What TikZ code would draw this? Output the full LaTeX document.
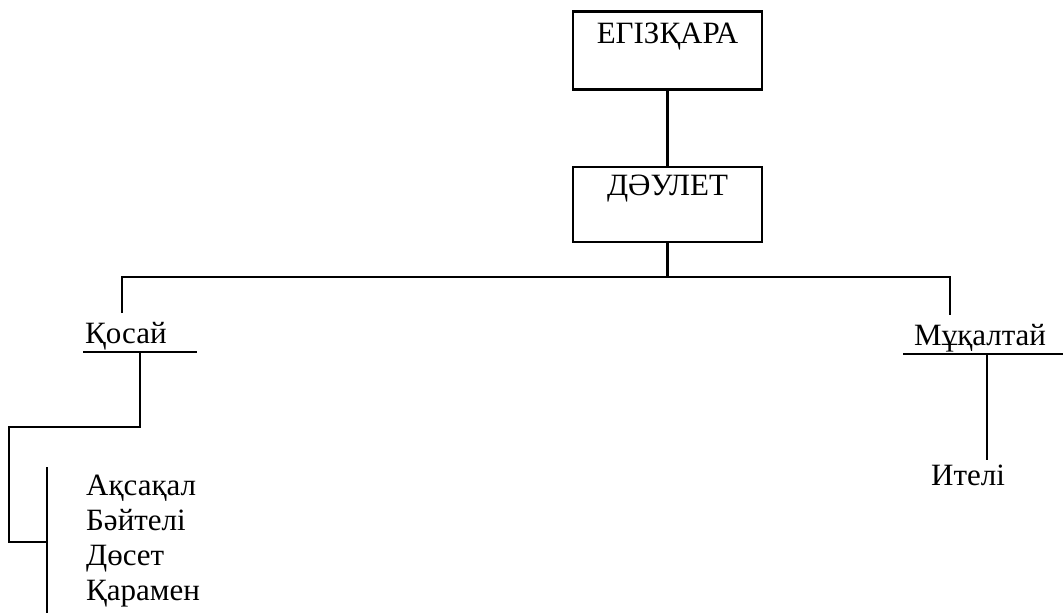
\documentclass[tikz,border=0pt]{standalone}
\usepackage{fontspec}
\setmainfont{Liberation Serif}
\usetikzlibrary{positioning}

\begin{document}
\begin{tikzpicture}[
  x=1pt,
  y=-1pt,
  box/.style={
    draw,
    line width=2.5pt,
    minimum width=189pt,
    inner xsep=0pt,
    inner ysep=0pt,
    text depth=46pt,
    font=\fontsize{31}{34.5}\selectfont
  },
  person/.style={
    inner sep=0pt,
    align=left,
    font=\fontsize{31}{34.7}\selectfont
  },
  link/.style={line width=2.5pt},
  node distance=75pt
]
\useasboundingbox (0,0) rectangle (1063,613);

% Egizqara
\node[box, text height=32pt, anchor=north] (egizqara) at (667.5,10) {ЕГІЗҚАРА};

% Daulet
\node[box, text height=29pt, below=of egizqara] (daulet) {ДӘУЛЕТ};

% Sons
\node[person, anchor=base west] (qosai) at (85,343) {Қосай};
\node[person, anchor=base west] (muqaltai) at (914,345) {Мұқалтай};

% Grandsons
\node[person, anchor=base west] (qosaiSons) at (86,600) {Ақсақал\\Бәйтелі\\Дөсет\\Қарамен};
\node[person, anchor=base] (iteli) at (968,485) {Ителі};

% Coordinates
\coordinate (busL) at (122,277);
\coordinate (busR) at (950,277);
\coordinate (qosaiTop) at (122,313);
\coordinate (muqaltaiTop) at (950,315);
\coordinate (qosaiL) at (83,352);
\coordinate (qosaiR) at (197,352);
\coordinate (qosaiDrop) at (140,352);
\coordinate (elbowA) at (140,427);
\coordinate (elbowB) at (9,427);
\coordinate (elbowC) at (9,542);
\coordinate (barMid) at (47,542);
\coordinate (barTop) at (47,467);
\coordinate (barBot) at (47,613);
\coordinate (muqaltaiL) at (903,354);
\coordinate (muqaltaiR) at (1063,354);
\coordinate (muqaltaiDrop) at (987,354);
\coordinate (iteliTop) at (987,460);

% Relationships
\draw[link] (egizqara) -- (daulet);
\draw[link] (daulet.south) -- (daulet.south |- busL);
\draw[link] (qosaiTop) -- (busL) -- (busR) -- (muqaltaiTop);
\draw[link] (qosaiL) -- (qosaiR);
\draw[link] (qosaiDrop) -- (elbowA) -- (elbowB) -- (elbowC) -- (barMid);
\draw[link] (barTop) -- (barBot);
\draw[link] (muqaltaiL) -- (muqaltaiR);
\draw[link] (muqaltaiDrop) -- (iteliTop);

\end{tikzpicture}
\end{document}
